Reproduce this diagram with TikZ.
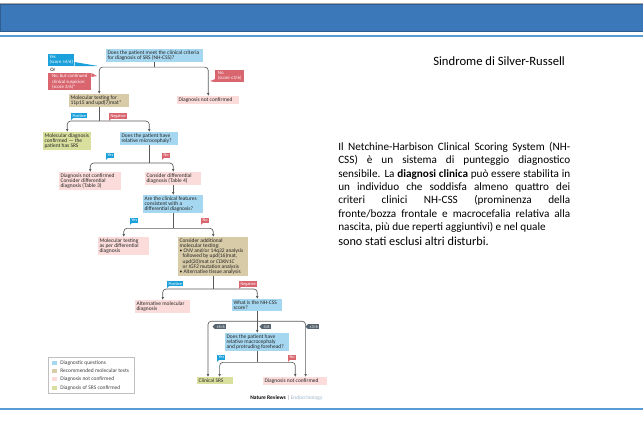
\documentclass[tikz,border=0pt]{standalone}
\usepackage{fontspec}
\setmainfont{Carlito}
\usetikzlibrary{positioning,calc,arrows.meta}

\definecolor{qcol}{HTML}{A5D7F0}
\definecolor{tancol}{HTML}{D8CBA8}
\definecolor{pinkcol}{HTML}{FBDCDA}
\definecolor{greencol}{HTML}{D9E09E}
\definecolor{yescol}{HTML}{1AA0DB}
\definecolor{nocol}{HTML}{D9656F}
\definecolor{scorecol}{HTML}{55646E}
\definecolor{linecol}{HTML}{5A5A5A}
\definecolor{barcol}{HTML}{3A78B9}
\definecolor{barline}{HTML}{2E5E91}
\definecolor{lightbar}{HTML}{5B9BD5}
\definecolor{credcol}{HTML}{9DB5C8}

\tikzset{
    box/.style={anchor=north west, inner sep=1pt, align=flush left, text=black!85,
        font=\fontsize{4.1}{3.9}\selectfont},
    qbox/.style={box, fill=qcol},
    molbox/.style={box, fill=tancol},
    ncbox/.style={box, fill=pinkcol},
    srsbox/.style={box, fill=greencol},
    callout/.style={anchor=north west, inner sep=1pt, align=left, text=white,
        font=\fontsize{3.6}{3.9}\selectfont},
    tag/.style={anchor=north west, inner xsep=1pt, inner ysep=0.6pt, text=white,
        font=\fontsize{3.2}{3.4}\selectfont},
    yestag/.style={tag, fill=yescol},
    notag/.style={tag, fill=nocol},
    scoretag/.style={tag, fill=scorecol},
    link/.style={draw=linecol, line width=0.5pt, rounded corners=2.5pt},
    arrow/.style={link, -{Latex[length=2.2pt,width=2pt]}}
}

\begin{document}
\begin{tikzpicture}[x=0.75pt,y=-0.75pt]
    \useasboundingbox (0,0) rectangle (643,428);

    % slide bars
    \draw[black!35, line width=0.4pt] (0,3) -- (643,3);
    \draw[barline, fill=barcol, line width=0.6pt] (0.5,4) rectangle (643,31);
    \fill[lightbar] (0,34.7) rectangle (643,37.3);
    \fill[lightbar] (0,407.7) rectangle (643,410.3);

    % first question
    \node[qbox, text width=70.7pt] (q1) at (106,49)
        {Does the patient meet the clinical criteria\\for diagnosis of SRS (NH-CSS)?};
    \node[callout, fill=yescol, minimum width=19.5pt] (yes1) at (48,54) {Yes\\(score ≥4/6)};
    \node[anchor=west, inner sep=0, font=\fontsize{3.8}{4}\selectfont] (or) at (50,69.5) {Or};
    \node[callout, fill=nocol, minimum width=32.2pt] (no1) at (48,73)
        {No, but continued\\clinical suspicion\\(score 3/6)*};
    \node[callout, fill=nocol, minimum width=21.7pt] (no2) at (215,70) {No\\(score ≤3/6)};
    \node[ncbox, text width=44.5pt] (dnc1) at (177,96) {Diagnosis not confirmed};
    \node[molbox, text width=43pt] (mol1) at (69,94) {Molecular testing for\\11p15 and upd(7)mat*};

    \coordinate (yes1tip) at (98,66);
    \coordinate (no1tip) at (97,76);
    \coordinate (no2tip) at (210,81);
    \fill[yescol] ($(yes1.east)+(0,2)$) -- (yes1tip) -- (yes1.south east) -- cycle;
    \fill[nocol] (no1.north east) -- (no1tip) -- ($(no1.north east)+(0,4)$) -- cycle;
    \fill[nocol] (no2.south west) -- (no2tip) -- ($(no2.south west)+(0,-3)$) -- cycle;

    \draw[link] (q1.south) -- ++(0,5) coordinate (s1);
    \draw[arrow] (s1) -| (mol1.north);
    \draw[arrow] (s1) -| (dnc1.north);

    % molecular testing result
    \node[yestag] (pos1) at (71,113) {Positive};
    \node[notag] (neg1) at (109,113) {Negative};
    \node[srsbox, text width=34pt] (srs1) at (43,132)
        {Molecular diagnosis\\confirmed --- the\\patient has SRS};
    \node[qbox, text width=41.5pt] (q2) at (120,132) {Does the patient have\\relative microcephaly?};

    \draw[link] (mol1.south) -- ++(0,14) coordinate (s2);
    \draw[arrow] (s2) -| (srs1.north);
    \draw[arrow] (s2) -| (q2.north);

    % microcephaly
    \node[yestag] (yes2) at (106,153) {Yes};
    \node[notag] (no3) at (162,153) {No};
    \node[ncbox, text width=44.5pt] (dnc2) at (59,172)
        {Diagnosis not confirmed\\Consider differential\\diagnosis (Table 3)};
    \node[ncbox, text width=40pt] (cdd) at (145,172) {Consider differential\\diagnosis (Table 4)};
    \node[qbox, text width=43pt] (q3) at (143,195)
        {Are the clinical features\\consistent with a\\differential diagnosis?};

    \draw[link] (q2.south) -- ++(0,18) coordinate (s3);
    \draw[arrow] (s3) -| (dnc2.north);
    \draw[arrow] (s3) -| (cdd.north);
    \draw[arrow] (cdd.south) -- (q3.north);

    % differential diagnosis
    \node[yestag] (yes3) at (130,218) {Yes};
    \node[notag] (no4) at (201,218) {No};
    \node[ncbox, text width=36.2pt] (mol2) at (98,237)
        {Molecular testing\\as per differential\\diagnosis};
    \node[molbox, text width=50.5pt] (mol3) at (178,237)
        {Consider additional\\molecular testing:\\
         \textbullet\ CNV and/or 14q32 analysis\\
         \hspace*{2.3pt}followed by upd(16)mat,\\
         \hspace*{2.3pt}upd(20)mat or \textit{CDKN1C}\\
         \hspace*{2.3pt}or \textit{IGF2} mutation analysis\\
         \textbullet\ Alternative tissue analysis};

    \draw[link] (q3.south) -- ++(0,15) coordinate (s4);
    \draw[arrow] (s4) -| (mol2.north);
    \draw[arrow] (s4) -| (mol3.north);

    % additional testing
    \node[yestag] (pos2) at (167,281) {Positive};
    \node[notag] (neg2) at (239,281) {Negative};
    \node[ncbox, text width=39.2pt] (alt) at (135,300) {Alternative molecular\\diagnosis};
    \node[qbox, text width=35.5pt] (q4) at (232,299) {What is the NH-CSS\\score?};

    \draw[link] (mol3.south) -- ++(0,13) coordinate (s5);
    \draw[arrow] (s5) -| (alt.north);
    \draw[arrow] (s5) -| (q4.north);

    % NH-CSS score
    \node[scoretag] (sc5) at (215,324) {≥5/6};
    \node[scoretag] (sc4) at (262,324) {4/6};
    \node[scoretag] (sc3) at (308,324) {≤3/6};
    \node[qbox, text width=46pt] (q5) at (225,333)
        {Does the patient have\\relative macrocephaly\\and protruding forehead?};
    \node[yestag] (yes4) at (217,355) {Yes};
    \node[notag] (no5) at (288,355) {No};
    \node[srsbox, text width=25pt] (srs2) at (197,377) {Clinical SRS};
    \node[ncbox, text width=46pt] (dnc3) at (263,377) {Diagnosis not confirmed};

    \draw[link] (q4.south) -- ++(0,10) coordinate (s6);
    \draw[arrow] (q4.south) -- (q5.north);
    \draw[arrow] (s6) -| ($(srs2.north west)!0.3!(srs2.north east)$);
    \draw[arrow] (s6) -| ($(dnc3.north west)!0.66!(dnc3.north east)$);
    \draw[link] (q5.south) -- ++(0,11) coordinate (s7);
    \draw[arrow] (s7) -| ($(srs2.north west)!0.62!(srs2.north east)$);
    \draw[arrow] (s7) -| ($(dnc3.north west)!0.5!(dnc3.north east)$);

    % tag tails
    \foreach \t in {pos1,yes2,yes3,pos2,yes4}
        \fill[yescol] (\t.south west) -- ++(0,2) -- ++(2,-2) -- cycle;
    \foreach \t in {neg1,no3,no4,neg2,no5}
        \fill[nocol] (\t.south west) -- ++(0,2) -- ++(2,-2) -- cycle;
    \foreach \t in {sc5,sc4,sc3}
        \fill[scorecol] (\t.north west) -- ++(-2.5,2.5) -- (\t.south west) -- cycle;

    % key
    \node[draw=black!25, line width=0.3pt, anchor=north west, inner sep=0,
        minimum width=64.5pt, minimum height=27pt] (key) at (48,357) {};
    \foreach \c/\txt [count=\i] in {qcol/Diagnostic questions, tancol/Recommended molecular tests,
        pinkcol/Diagnosis not confirmed, greencol/Diagnosis of SRS confirmed} {
        \fill[\c] (52,{360.7+8.3*(\i-1)}) rectangle ++(5,4);
        \node[anchor=west, inner sep=0, text=black!75, font=\fontsize{4.1}{5}\selectfont]
            (key\i) at (60,{362.7+8.3*(\i-1)}) {\txt};
    }

    \node[anchor=west, inner sep=0, font=\fontsize{4.1}{5}\selectfont] (credit) at (250,398)
        {\textbf{Nature Reviews} \textcolor{black!50}{|} \textcolor{credcol}{Endocrinology}};

    % right column
    \node[anchor=west, inner sep=0, font=\fontsize{9.5}{11}\selectfont] (title) at (433,61)
        {Sindrome di Silver-Russell};
    \node[anchor=north west, inner sep=0, text width=174pt, align=justify,
        font=\fontsize{8.4}{10}\selectfont] (para) at (338,142)
        {\hyphenpenalty=10000 Il Netchine-Harbison Clinical Scoring System (NH-\linebreak
         CSS) è un sistema di punteggio diagnostico\linebreak
         sensibile. La \textbf{diagnosi clinica} può essere stabilita in\linebreak
         un individuo che soddisfa almeno quattro dei\linebreak
         criteri clinici NH-CSS (prominenza della\linebreak
         fronte/bozza frontale e macrocefalia relativa alla\linebreak
         nascita, più due reperti aggiuntivi) e nel quale\par
         \vspace{1.5pt}{\fontsize{9.2}{10}\selectfont sono stati esclusi altri disturbi.}};
\end{tikzpicture}
\end{document}
